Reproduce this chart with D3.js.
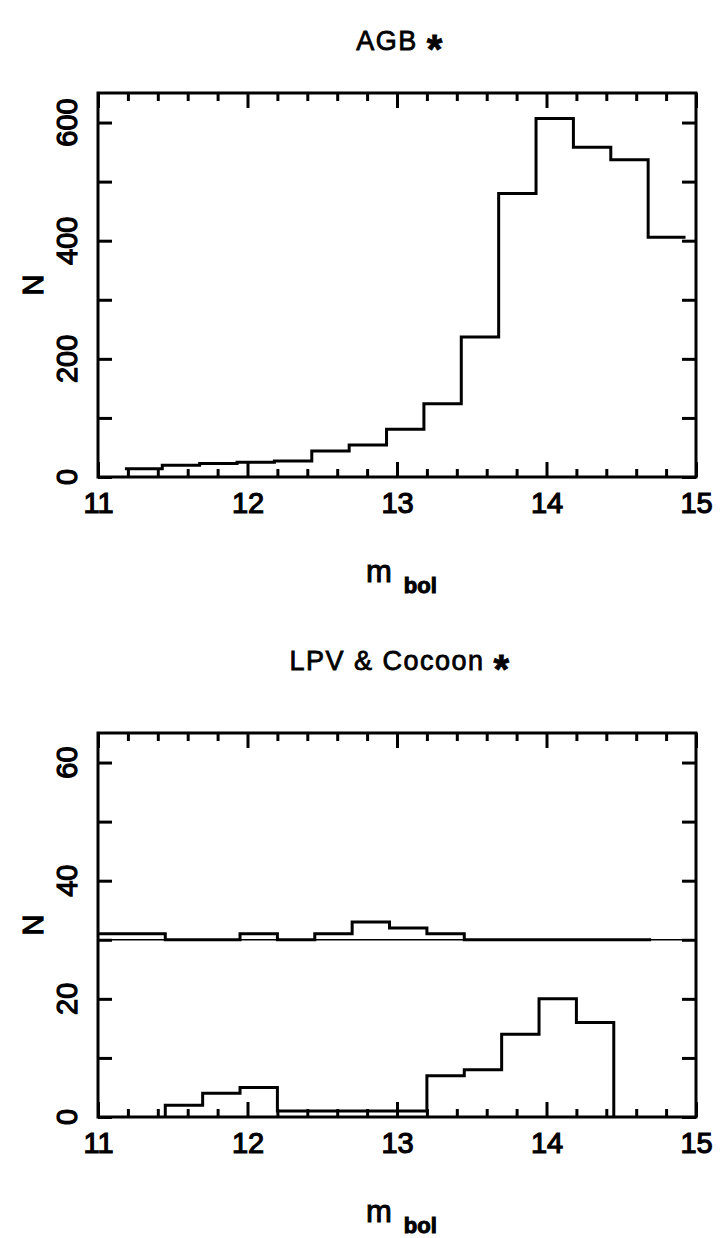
<!DOCTYPE html>
<html>
<head>
<meta charset="utf-8">
<script src="https://cdn.jsdelivr.net/npm/d3@7"></script>
<style>
  body { margin: 0; background: #fff; }
  text { font-family: "Liberation Sans", Arial, sans-serif; fill: #000; }
</style>
</head>
<body>
<div id="chart"></div>
<script>
// ---- data ----
// AGB histogram (bin edges in m_bol, counts)
var agbEdges = [11.18, 11.43, 11.68, 11.93, 12.18, 12.43, 12.68, 12.93, 13.18, 13.43, 13.68, 13.93, 14.18, 14.43, 14.68, 14.93];
var agbCounts = [14, 20, 23, 25, 27, 44, 54, 81, 124, 237, 480, 607, 558, 537, 406];

// LPV & Cocoon panel
var lpvEdges = [10.95, 11.2, 11.45, 11.7, 11.95, 12.2, 12.45, 12.7, 12.95, 13.2, 13.45, 13.7, 13.95, 14.2, 14.45, 14.7];
var lpvCounts = [0, 0, 2, 4, 5, 1, 1, 1, 1, 7, 8, 14, 20, 16, 0];
// second histogram drawn shifted up by 30
var cocoonOffset = 30;
var cocoonCounts = [1, 1, 0, 0, 1, 0, 1, 3, 2, 1, 0, 0, 0, 0, 0];

var xTicks = [11, 12, 13, 14, 15];
var agbYTicks = [0, 200, 400, 600];
var lpvYTicks = [0, 20, 40, 60];

var W = 720, H = 1238;
var svg = d3.select("#chart").append("svg")
  .attr("width", W).attr("height", H);

var left = 98, right = 696;
var x = d3.scaleLinear().domain([11, 15]).range([left, right]);

// heavier strokes like the plotter font
function heavy(sel, w) {
  sel.attr("stroke", "#000").attr("stroke-width", w).attr("paint-order", "stroke");
}

function panel(opt) {
  var y = d3.scaleLinear().domain(opt.ydom).range([opt.bottom, opt.top]);
  var g = svg.append("g");

  // clip to the frame
  g.append("clipPath").attr("id", opt.id)
    .append("rect").attr("x", left).attr("y", opt.top)
    .attr("width", right - left).attr("height", opt.bottom - opt.top);

  var minorX = d3.range(11, 15.001, 0.2).filter(function (d) { return Math.abs(d - Math.round(d)) > 0.01; });
  var minorY = d3.range(opt.yminor, opt.ydom[1], opt.yminor * 2);
  var allY = opt.yticks.concat(minorY);

  // x ticks bottom (inward) + labels
  g.append("g").attr("transform", "translate(0," + opt.bottom + ")")
    .call(d3.axisBottom(x).tickValues(xTicks).tickSize(-15).tickPadding(15).tickFormat(d3.format("d")))
    .call(function (a) { a.select(".domain").remove(); });
  g.append("g").attr("transform", "translate(0," + opt.bottom + ")")
    .call(d3.axisBottom(x).tickValues(minorX).tickSize(-8).tickFormat(""))
    .call(function (a) { a.select(".domain").remove(); });
  // x ticks top
  g.append("g").attr("transform", "translate(0," + opt.top + ")")
    .call(d3.axisTop(x).tickValues(xTicks).tickSize(-15).tickFormat(""))
    .call(function (a) { a.select(".domain").remove(); });
  g.append("g").attr("transform", "translate(0," + opt.top + ")")
    .call(d3.axisTop(x).tickValues(minorX).tickSize(-8).tickFormat(""))
    .call(function (a) { a.select(".domain").remove(); });
  // y ticks left/right
  g.append("g").attr("transform", "translate(" + left + ",0)")
    .call(d3.axisLeft(y).tickValues(allY).tickSize(-14).tickFormat(""))
    .call(function (a) { a.select(".domain").remove(); });
  g.append("g").attr("transform", "translate(" + right + ",0)")
    .call(d3.axisRight(y).tickValues(allY).tickSize(-14).tickFormat(""))
    .call(function (a) { a.select(".domain").remove(); });

  g.selectAll(".tick line").attr("stroke", "#000").attr("stroke-width", 3);
  g.selectAll(".tick text").style("font-size", "29px")
    .style("font-family", "'Liberation Sans', Arial, sans-serif").attr("fill", "#000")
    .call(heavy, 1.2);

  // rotated y labels
  g.selectAll(".ylab").data(opt.yticks).join("text")
    .attr("class", "ylab")
    .attr("x", 77).attr("y", function (d) { return y(d); })
    .attr("transform", function (d) { return "rotate(-90,77," + y(d) + ")"; })
    .attr("text-anchor", "middle")
    .style("font-size", "29px")
    .text(function (d) { return d; })
    .call(heavy, 1.2);

  // frame
  g.append("rect").attr("x", left).attr("y", opt.top)
    .attr("width", right - left).attr("height", opt.bottom - opt.top)
    .attr("fill", "none").attr("stroke", "#000").attr("stroke-width", 3);

  // title
  var t = g.append("text").attr("x", (left + right) / 2 + 3).attr("y", opt.titleY)
    .attr("text-anchor", "middle").style("font-size", "27px").style("letter-spacing", "1.5px")
    .call(heavy, 0.8);
  t.append("tspan").text(opt.title + " ");
  t.append("tspan").text("*").style("font-weight", "bold").style("font-size", "40px").attr("dy", 13);

  // N
  g.append("text").attr("x", 43).attr("y", (opt.top + opt.bottom) / 2)
    .attr("transform", "rotate(-90,43," + (opt.top + opt.bottom) / 2 + ")")
    .attr("text-anchor", "middle").style("font-size", "29px").text("N")
    .call(heavy, 1.2);

  // m_bol
  var m = g.append("text").attr("x", 366).attr("y", opt.bottom + 105).style("font-size", "31px")
    .call(heavy, 1);
  m.append("tspan").text("m");
  m.append("tspan").attr("dx", 12).attr("dy", 11).style("font-size", "22px").style("font-weight", "bold").text("bol");

  return { g: g, y: y };
}

function steps(edges, counts, shift, closeEnds) {
  var pts = [];
  if (closeEnds) pts.push([edges[0], 0 + shift]);
  counts.forEach(function (c, i) {
    pts.push([edges[i], c + shift]);
    pts.push([edges[i + 1], c + shift]);
  });
  if (closeEnds) pts.push([edges[edges.length - 1], 0 + shift]);
  return pts;
}

// ---- top panel ----
var p1 = panel({ id: "c1", top: 93, bottom: 477, ydom: [0, 650], yticks: agbYTicks, yminor: 100, title: "AGB", titleY: 50 });
p1.g.append("path")
  .datum(steps(agbEdges, agbCounts, 0, false))
  .attr("clip-path", "url(#c1)")
  .attr("fill", "none").attr("stroke", "#000").attr("stroke-width", 3)
  .attr("stroke-linejoin", "miter")
  .attr("d", d3.line().x(function (d) { return x(d[0]); }).y(function (d) { return p1.y(d[1]); }));

// ---- bottom panel ----
var p2 = panel({ id: "c2", top: 733, bottom: 1117, ydom: [0, 65], yticks: lpvYTicks, yminor: 10, title: "LPV & Cocoon", titleY: 670 });

// thin reference line at the offset
p2.g.append("line")
  .attr("x1", left).attr("x2", right)
  .attr("y1", p2.y(cocoonOffset)).attr("y2", p2.y(cocoonOffset))
  .attr("stroke", "#000").attr("stroke-width", 1.5);

p2.g.append("path")
  .datum(steps(lpvEdges, cocoonCounts, cocoonOffset, false))
  .attr("clip-path", "url(#c2)")
  .attr("fill", "none").attr("stroke", "#000").attr("stroke-width", 3)
  .attr("d", d3.line().x(function (d) { return x(d[0]); }).y(function (d) { return p2.y(d[1]); }));

p2.g.append("path")
  .datum(steps(lpvEdges.slice(2, 15), lpvCounts.slice(2, 14), 0, true))
  .attr("clip-path", "url(#c2)")
  .attr("fill", "none").attr("stroke", "#000").attr("stroke-width", 3)
  .attr("d", d3.line().x(function (d) { return x(d[0]); }).y(function (d) { return p2.y(d[1]); }));
</script>
</body>
</html>
